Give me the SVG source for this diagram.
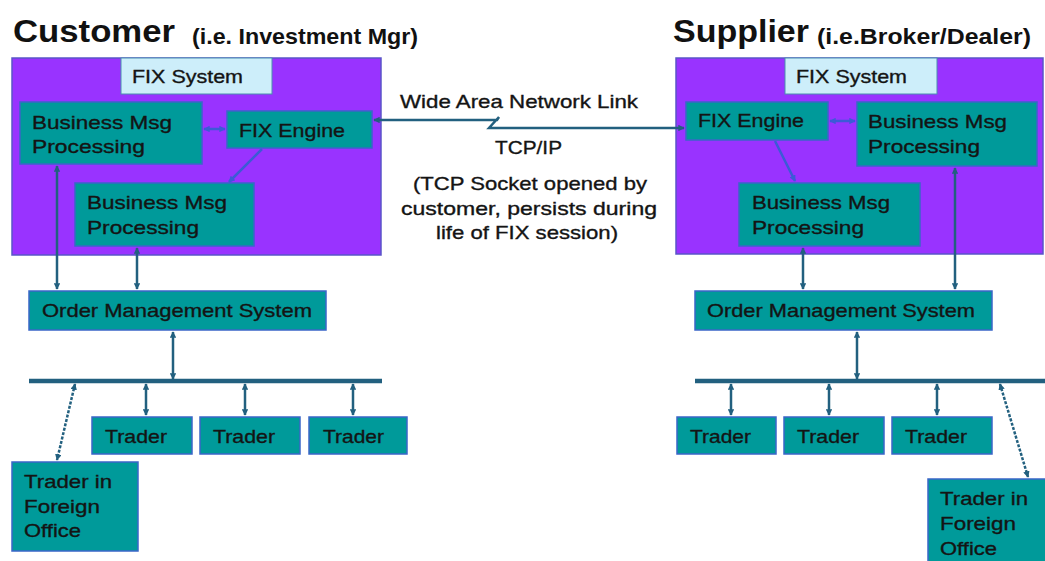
<svg xmlns="http://www.w3.org/2000/svg" width="1045" height="561" viewBox="0 0 1045 561">
  <style>
    .title { font-family: "Liberation Sans", Arial, sans-serif; font-weight: bold; fill: #111; }
    .t { font-family: "Liberation Sans", Arial, sans-serif; font-size: 19px; fill: #141414; stroke: #141414; stroke-width: 0.35; }
    .sys { fill: #9933ff; stroke: #5a55c8; stroke-width: 1.5; }
    .lbl { fill: #cdeefa; stroke: #4a8fb0; stroke-width: 1; }
    .box { fill: #009a9a; stroke: #3a66c8; stroke-width: 1.5; }
    .wire { fill: none; stroke: #22607f; stroke-width: 2.5; }
    .wire-in { fill: none; stroke: #3b5bd6; stroke-width: 2.5; }
    .bus { fill: none; stroke: #22607f; stroke-width: 4.5; }
    .dash { stroke-dasharray: 3 1.5; }
  </style>
  <defs>
    <marker id="ah" viewBox="0 0 8 8" refX="7" refY="4" markerWidth="6.5" markerHeight="6.5" markerUnits="userSpaceOnUse" orient="auto-start-reverse">
      <path d="M0,0 L8,4 L0,8 z" fill="#22607f"/>
    </marker>
    <marker id="ahi" viewBox="0 0 8 8" refX="7" refY="4" markerWidth="6.5" markerHeight="6.5" markerUnits="userSpaceOnUse" orient="auto-start-reverse">
      <path d="M0,0 L8,4 L0,8 z" fill="#3b5bd6"/>
    </marker>
  </defs>

  <rect width="1045" height="561" fill="#ffffff"/>

  <!-- Headings -->
  <g id="heading-customer">
    <text class="title" x="13" y="42" font-size="32" textLength="162" lengthAdjust="spacingAndGlyphs">Customer</text>
    <text class="title" x="192" y="44" font-size="22" textLength="226" lengthAdjust="spacingAndGlyphs">(i.e. Investment Mgr)</text>
  </g>
  <g id="heading-supplier">
    <text class="title" x="673" y="42" font-size="32" textLength="136" lengthAdjust="spacingAndGlyphs">Supplier</text>
    <text class="title" x="817" y="44" font-size="22" textLength="214" lengthAdjust="spacingAndGlyphs">(i.e.Broker/Dealer)</text>
  </g>

  <!-- Customer side -->
  <g id="customer-fix-system">
    <rect class="sys" x="12" y="58" width="369" height="197"/>
    <rect class="lbl" x="121" y="58" width="151" height="36"/>
    <text class="t" x="132" y="83" textLength="111" lengthAdjust="spacingAndGlyphs">FIX System</text>
  </g>
  <g id="customer-bmp-1">
    <rect class="box" x="20" y="102" width="182" height="62"/>
    <text class="t" x="32" y="129" textLength="140" lengthAdjust="spacingAndGlyphs">Business Msg</text>
    <text class="t" x="32" y="153" textLength="113" lengthAdjust="spacingAndGlyphs">Processing</text>
  </g>
  <g id="customer-fix-engine">
    <rect class="box" x="227" y="111" width="145" height="37"/>
    <text class="t" x="239" y="137" textLength="106" lengthAdjust="spacingAndGlyphs">FIX Engine</text>
  </g>
  <g id="customer-bmp-2">
    <rect class="box" x="75" y="183" width="179" height="63"/>
    <text class="t" x="87" y="209" textLength="140" lengthAdjust="spacingAndGlyphs">Business Msg</text>
    <text class="t" x="87" y="234" textLength="112" lengthAdjust="spacingAndGlyphs">Processing</text>
  </g>
  <g id="customer-oms">
    <rect class="box" x="29" y="291" width="297" height="39"/>
    <text class="t" x="42" y="317" textLength="270" lengthAdjust="spacingAndGlyphs">Order Management System</text>
  </g>
  <g id="customer-trader-1">
    <rect class="box" x="92" y="417" width="100" height="37"/>
    <text class="t" x="105" y="443" textLength="62" lengthAdjust="spacingAndGlyphs">Trader</text>
  </g>
  <g id="customer-trader-2">
    <rect class="box" x="200" y="417" width="100" height="37"/>
    <text class="t" x="213" y="443" textLength="62" lengthAdjust="spacingAndGlyphs">Trader</text>
  </g>
  <g id="customer-trader-3">
    <rect class="box" x="309" y="417" width="98" height="37"/>
    <text class="t" x="323" y="443" textLength="61" lengthAdjust="spacingAndGlyphs">Trader</text>
  </g>
  <g id="customer-foreign-trader">
    <rect class="box" x="12" y="462" width="126" height="89"/>
    <text class="t" x="24" y="488" textLength="88" lengthAdjust="spacingAndGlyphs">Trader in</text>
    <text class="t" x="24" y="513" textLength="76" lengthAdjust="spacingAndGlyphs">Foreign</text>
    <text class="t" x="24" y="537" textLength="57" lengthAdjust="spacingAndGlyphs">Office</text>
  </g>

  <!-- Supplier side -->
  <g id="supplier-fix-system">
    <rect class="sys" x="676" y="58" width="367" height="196"/>
    <rect class="lbl" x="785" y="58" width="152" height="36"/>
    <text class="t" x="796" y="83" textLength="111" lengthAdjust="spacingAndGlyphs">FIX System</text>
  </g>
  <g id="supplier-fix-engine">
    <rect class="box" x="686" y="102" width="142" height="38"/>
    <text class="t" x="698" y="127" textLength="106" lengthAdjust="spacingAndGlyphs">FIX Engine</text>
  </g>
  <g id="supplier-bmp-1">
    <rect class="box" x="857" y="102" width="180" height="64"/>
    <text class="t" x="868" y="128" textLength="139" lengthAdjust="spacingAndGlyphs">Business Msg</text>
    <text class="t" x="868" y="153" textLength="112" lengthAdjust="spacingAndGlyphs">Processing</text>
  </g>
  <g id="supplier-bmp-2">
    <rect class="box" x="739" y="183" width="181" height="63"/>
    <text class="t" x="752" y="209" textLength="138" lengthAdjust="spacingAndGlyphs">Business Msg</text>
    <text class="t" x="752" y="234" textLength="112" lengthAdjust="spacingAndGlyphs">Processing</text>
  </g>
  <g id="supplier-oms">
    <rect class="box" x="695" y="291" width="297" height="39"/>
    <text class="t" x="707" y="317" textLength="268" lengthAdjust="spacingAndGlyphs">Order Management System</text>
  </g>
  <g id="supplier-trader-1">
    <rect class="box" x="677" y="417" width="99" height="37"/>
    <text class="t" x="690" y="443" textLength="61" lengthAdjust="spacingAndGlyphs">Trader</text>
  </g>
  <g id="supplier-trader-2">
    <rect class="box" x="784" y="417" width="100" height="37"/>
    <text class="t" x="797" y="443" textLength="62" lengthAdjust="spacingAndGlyphs">Trader</text>
  </g>
  <g id="supplier-trader-3">
    <rect class="box" x="892" y="417" width="100" height="37"/>
    <text class="t" x="905" y="443" textLength="62" lengthAdjust="spacingAndGlyphs">Trader</text>
  </g>
  <g id="supplier-foreign-trader">
    <rect class="box" x="928" y="479" width="125" height="90"/>
    <text class="t" x="940" y="505" textLength="88" lengthAdjust="spacingAndGlyphs">Trader in</text>
    <text class="t" x="940" y="530" textLength="76" lengthAdjust="spacingAndGlyphs">Foreign</text>
    <text class="t" x="940" y="555" textLength="57" lengthAdjust="spacingAndGlyphs">Office</text>
  </g>

  <!-- WAN link captions -->
  <g id="wan-caption">
    <text class="t" x="400" y="108" textLength="238" lengthAdjust="spacingAndGlyphs">Wide Area Network Link</text>
    <text class="t" x="495" y="154" textLength="67" lengthAdjust="spacingAndGlyphs">TCP/IP</text>
    <text class="t" x="413" y="190" textLength="234" lengthAdjust="spacingAndGlyphs">(TCP Socket opened by</text>
    <text class="t" x="401" y="215" textLength="256" lengthAdjust="spacingAndGlyphs">customer, persists during</text>
    <text class="t" x="436" y="239" textLength="182" lengthAdjust="spacingAndGlyphs">life of FIX session)</text>
  </g>

  <!-- Connectors -->
  <g id="connectors">
    <!-- WAN link between the two FIX engines -->
    <path class="wire" d="M374,120 L497,120 L499,117 L489,128 L684,128" marker-start="url(#ah)" marker-end="url(#ah)"/>

    <!-- customer, inside FIX system -->
    <line class="wire-in" x1="204" y1="129" x2="225" y2="129" marker-start="url(#ahi)" marker-end="url(#ahi)"/>
    <line class="wire-in" x1="262" y1="149" x2="229" y2="182" marker-end="url(#ahi)"/>
    <!-- customer, down to OMS -->
    <line class="wire" x1="57" y1="166" x2="57" y2="289" marker-start="url(#ah)" marker-end="url(#ah)"/>
    <line class="wire" x1="137" y1="248" x2="137" y2="289" marker-start="url(#ah)" marker-end="url(#ah)"/>
    <line class="wire" x1="173" y1="332" x2="173" y2="379" marker-start="url(#ah)" marker-end="url(#ah)"/>
    <!-- customer bus and traders -->
    <line class="bus" x1="29" y1="381" x2="382" y2="381"/>
    <line class="wire" x1="146" y1="384" x2="146" y2="415" marker-start="url(#ah)" marker-end="url(#ah)"/>
    <line class="wire" x1="245" y1="384" x2="245" y2="415" marker-start="url(#ah)" marker-end="url(#ah)"/>
    <line class="wire" x1="353" y1="384" x2="353" y2="415" marker-start="url(#ah)" marker-end="url(#ah)"/>
    <line class="wire dash" x1="75" y1="384" x2="57" y2="460" marker-start="url(#ah)" marker-end="url(#ah)"/>

    <!-- supplier, inside FIX system -->
    <line class="wire-in" x1="830" y1="121" x2="855" y2="121" marker-start="url(#ahi)" marker-end="url(#ahi)"/>
    <line class="wire-in" x1="775" y1="141" x2="795" y2="181" marker-end="url(#ahi)"/>
    <!-- supplier, down to OMS -->
    <line class="wire" x1="803" y1="248" x2="803" y2="289" marker-start="url(#ah)" marker-end="url(#ah)"/>
    <line class="wire" x1="955" y1="168" x2="955" y2="289" marker-start="url(#ah)" marker-end="url(#ah)"/>
    <line class="wire" x1="857" y1="332" x2="857" y2="379" marker-start="url(#ah)" marker-end="url(#ah)"/>
    <!-- supplier bus and traders -->
    <line class="bus" x1="695" y1="381" x2="1045" y2="381"/>
    <line class="wire" x1="731" y1="384" x2="731" y2="415" marker-start="url(#ah)" marker-end="url(#ah)"/>
    <line class="wire" x1="829" y1="384" x2="829" y2="415" marker-start="url(#ah)" marker-end="url(#ah)"/>
    <line class="wire" x1="937" y1="384" x2="937" y2="415" marker-start="url(#ah)" marker-end="url(#ah)"/>
    <line class="wire dash" x1="1000" y1="384" x2="1028" y2="477" marker-start="url(#ah)" marker-end="url(#ah)"/>
  </g>
</svg>
